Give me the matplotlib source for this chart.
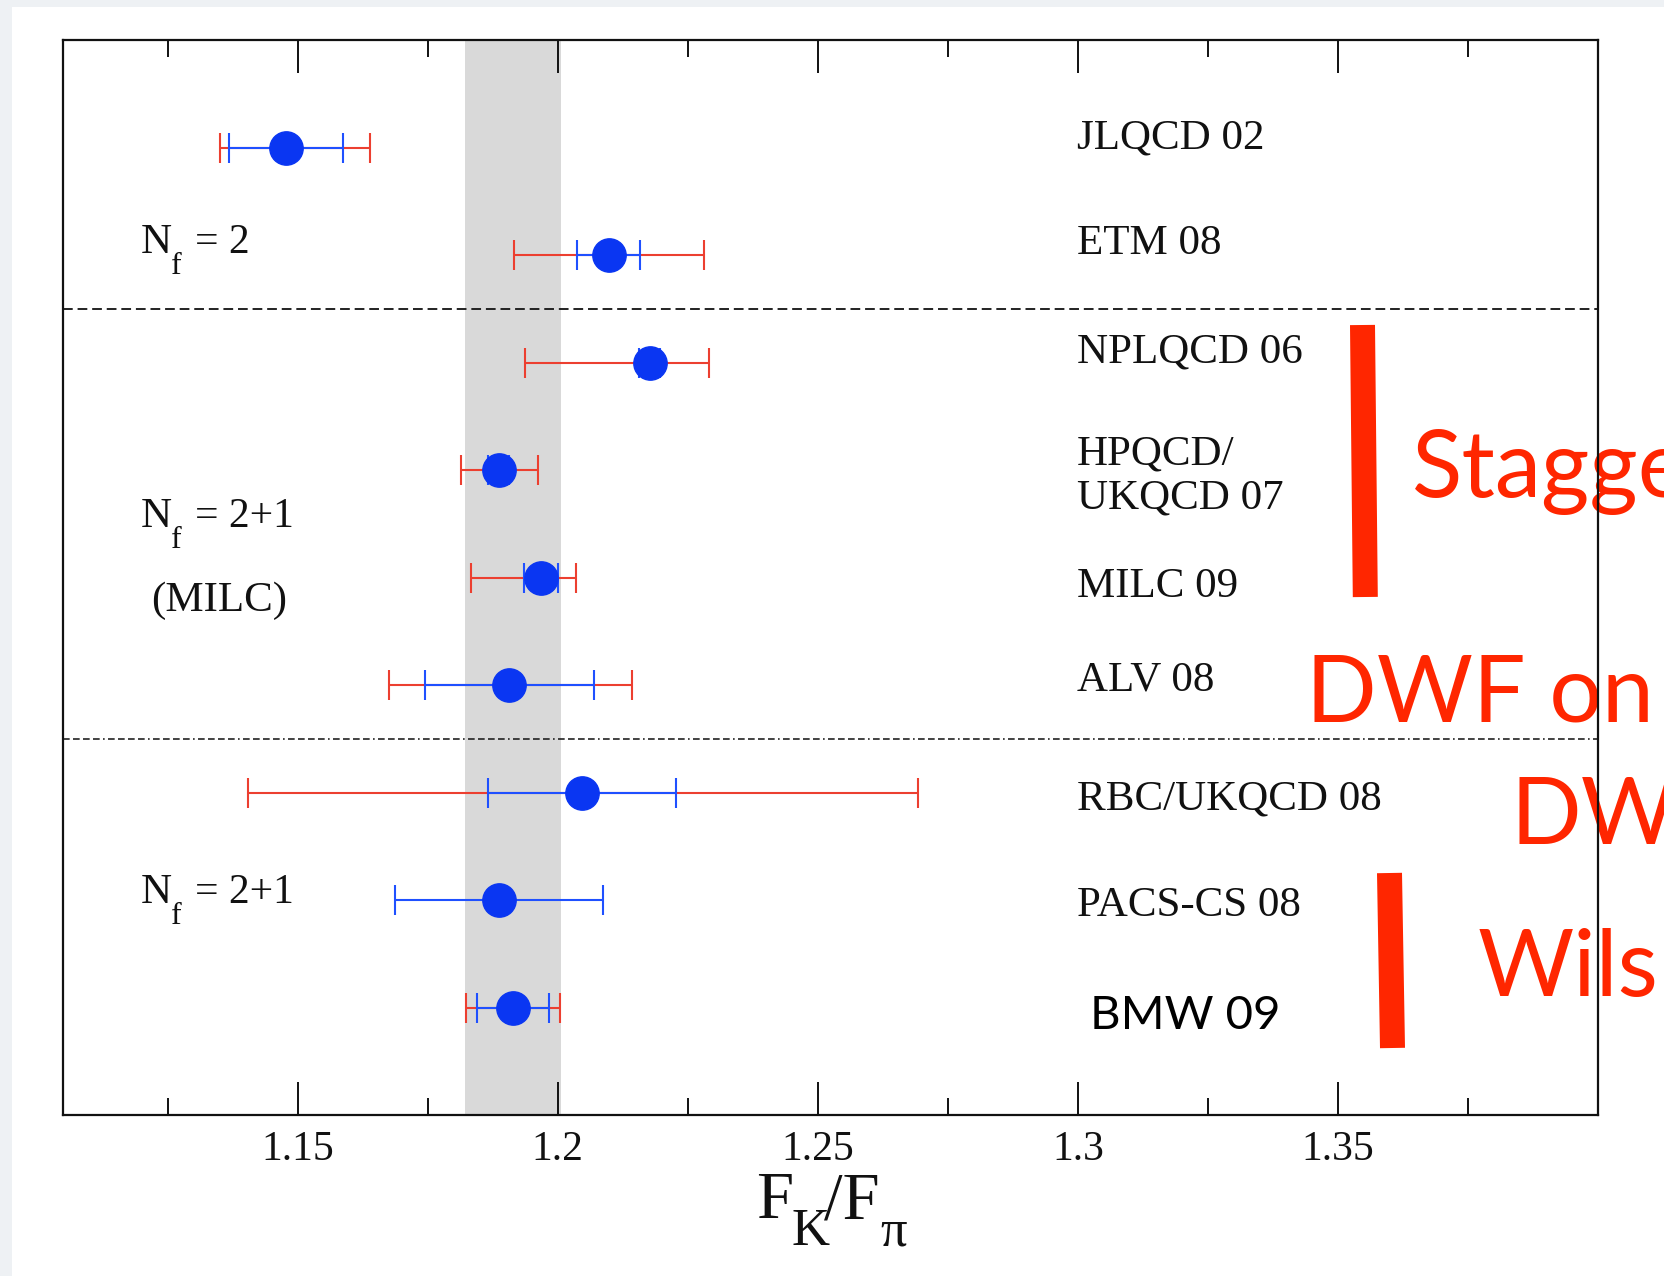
import numpy as np
import matplotlib
matplotlib.use("Agg")
import matplotlib.pyplot as plt
from matplotlib.lines import Line2D
from matplotlib.patches import Rectangle

# ---------------- data ----------------
names = ['JLQCD 02', 'ETM 08', 'NPLQCD 06', 'HPQCD/\nUKQCD 07', 'MILC 09',
         'ALV 08', 'RBC/UKQCD 08', 'PACS-CS 08', 'BMW 09']
central = [1.1478, 1.2098, 1.2177, 1.1887, 1.1968, 1.1907, 1.2047, 1.1887, 1.1914]
stat_err = [0.011, 0.006, 0.002, 0.002, 0.0032, 0.0162, 0.018, 0.020, 0.0069]
tot_lo = [0.0127, 0.0181, 0.024, 0.0073, 0.0134, 0.0231, 0.0643, np.nan, 0.0091]
tot_hi = [0.0162, 0.0184, 0.0113, 0.0076, 0.0067, 0.0236, 0.0645, np.nan, 0.0091]
band = [1.1822, 1.2006]
major_ticks = [1.15, 1.2, 1.25, 1.3, 1.35]
major_labels = ['1.15', '1.2', '1.25', '1.3', '1.35']
minor_ticks = [1.125, 1.175, 1.225, 1.275, 1.325, 1.375]
group_main = ['N', 'N', '(MILC)', 'N']
group_sub = ['f', 'f', '', 'f']
group_rest = ['= 2', '= 2+1', '', '= 2+1']
xlabel_parts = ['F', 'K', '/F', 'π']
overlay_words = ['Stagge', 'DWF on', 'DW', 'Wils']

# ---------------- style ----------------
plt.rcParams['font.family'] = ['Liberation Serif', 'DejaVu Serif']

W, H = 1665, 1276
fig = plt.figure(figsize=(W / 100, H / 100), dpi=100)
fig.patch.set_facecolor('#eef1f4')
fig.add_artist(Rectangle((12 / W, 0), 1, 1 - 7 / H, transform=fig.transFigure,
                         facecolor='white', edgecolor='none', zorder=-5))

ax_l, ax_r, ax_t, ax_b = 63.5, 1598, 40, 1115
ax = fig.add_axes([ax_l / W, 1 - ax_b / H, (ax_r - ax_l) / W, (ax_b - ax_t) / H])

RED = '#ec3f30'
BLUE = '#1f50ff'
MARK = '#0a36f2'
INK = '#111111'

rows = np.arange(len(names))
ax.axvspan(band[0], band[1], color='#d9d9d9', zorder=0, lw=0)

# total (red) error bars
tl = np.array(tot_lo); th = np.array(tot_hi)
ok = ~np.isnan(tl)
ax.errorbar(np.array(central)[ok], rows[ok], xerr=[tl[ok], th[ok]], fmt='none',
            ecolor=RED, elinewidth=1.5, capsize=11, capthick=1.5, zorder=3)
# statistical (blue) error bars
ax.errorbar(central, rows, xerr=stat_err, fmt='none', ecolor=BLUE,
            elinewidth=1.5, capsize=11, capthick=1.5, zorder=4)
ax.plot(central, rows, 'o', ms=24, color=MARK, mec=MARK, zorder=5)

# separators
ax.axhline(1.5, color='#222222', lw=1.4, ls=(0, (5, 2.5)), zorder=2)
ax.axhline(5.5, color='#222222', lw=1.2, ls=(0, (4, 2, 4, 2, 4, 2, 4, 2, 1, 2)), zorder=2)

ax.set_xlim(1.105, 1.40)
ax.set_ylim(9, -1)
ax.set_xticks(major_ticks)
ax.set_xticklabels(major_labels)
ax.set_xticks(minor_ticks, minor=True)
ax.set_yticks([])
ax.tick_params(axis='x', which='both', direction='in', top=True, bottom=True,
               width=1.4, labelsize=30, pad=11, colors=INK)
ax.tick_params(axis='x', which='major', length=24)
ax.tick_params(axis='x', which='minor', length=12)
for s in ax.spines.values():
    s.set_linewidth(1.6)
    s.set_color(INK)

# experiment labels (baseline offsets in row units)
label_dy = [0.01, -0.01, 0.0, 0.36, 0.18, 0.05, 0.16, 0.15, 0.2]
for i, nm in enumerate(names):
    if nm == 'BMW 09':
        ax.text(1.3024, i + label_dy[i], nm, fontsize=34, family=['Lato', 'DejaVu Sans'],
                va='baseline', ha='left', color='black')
    else:
        ax.text(1.2998, i + label_dy[i], nm, fontsize=31, va='baseline', ha='left',
                color=INK, linespacing=1.2)

# group labels  N_f = ... composed from pieces (offsets in points)
group_x = [1.1198, 1.1198, 1.1218, 1.1198]
group_y = [0.985, 3.527, 4.31, 7.03]
for gx, gy, m, sb, rs in zip(group_x, group_y, group_main, group_sub, group_rest):
    ax.text(gx, gy, m, fontsize=31, va='baseline', ha='left', color=INK)
    if sb:
        ax.annotate(sb, (gx, gy), xytext=(21.8, -15.1), textcoords='offset points',
                    fontsize=23, va='baseline', ha='left', color=INK)
    if rs:
        ax.annotate(rs, (gx, gy), xytext=(39.5, 0), textcoords='offset points',
                    fontsize=30, va='baseline', ha='left', color=INK)

# x label F_K/F_pi composed from pieces (pixel positions)
xl_pos = [(756, 1218, 48), (792, 1245, 38), (824, 1218, 48), (880, 1245, 38)]
for (px, py, fs), t in zip(xl_pos, xlabel_parts):
    fig.text(px / W, 1 - py / H, t, fontsize=fs, ha='left', va='baseline', color=INK)

# red slide overlay
OVR = '#ff2600'
bars = [((1362.5, 325), (1365.3, 597)), ((1389.5, 873), (1392.5, 1048))]
for (x0, y0), (x1, y1) in bars:
    fig.add_artist(Line2D([x0 / W, x1 / W], [1 - y0 / H, 1 - y1 / H],
                          transform=fig.transFigure, color=OVR, lw=18,
                          solid_capstyle='butt'))
word_pos = [(1412, 496.7), (1306, 722), (1511, 844), (1478, 996)]
for (px, py), w in zip(word_pos, overlay_words):
    ax.text(px / W, 1 - py / H, w, transform=fig.transFigure, fontsize=67,
            family=['Lato', 'DejaVu Sans'], color=OVR, va='baseline', ha='left',
            clip_on=False, zorder=2)

fig.savefig('out.png', dpi=100, facecolor=fig.get_facecolor())
